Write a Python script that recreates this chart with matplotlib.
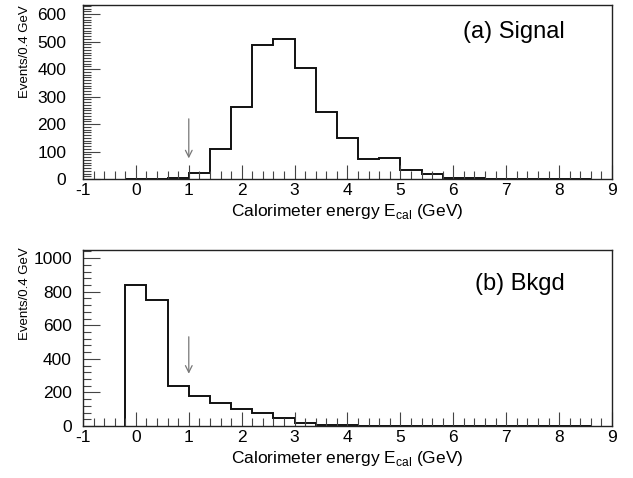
#!/usr/bin/env python3
import numpy as np
import matplotlib
matplotlib.use("Agg")
import matplotlib.pyplot as plt
from matplotlib.ticker import MultipleLocator

plt.rcParams["font.family"] = ["Liberation Sans", "DejaVu Sans"]

# Bin edges: 0.4 GeV bins starting at -0.2 GeV.
Edges = np.round(np.arange(-0.2, 9.0, 0.4), 2)

# (a) Signal counts per bin.
Signal = [0, 0, 3, 22, 110, 263, 488, 508, 403, 245, 150, 72, 77, 33, 18, 5, 3,
          0, 0, 0, 0, 0]
# (b) Background counts per bin.
Bkgd = [840, 750, 237, 180, 137, 103, 75, 45, 15, 8, 3,
        0, 0, 0, 0, 0, 0, 0, 0, 0, 0, 0]

XTicks = [-1, 0, 1, 2, 3, 4, 5, 6, 7, 8, 9]
Cut = 1.0

Fig = plt.figure(figsize=(6.33, 4.78), dpi=100)
AxA = Fig.add_axes([0.1311, 0.6255, 0.8357, 0.364])
AxB = Fig.add_axes([0.1311, 0.1088, 0.8357, 0.368])

# Axis, counts, title, ymax, major, minor, arrow (from, to), title y, ylabel y, y pad
Panels = [
    (AxA, Signal, "(a) Signal", 633, 100, 10, (229, 65), 0.845, 0.73, 12),
    (AxB, Bkgd, "(b) Bkgd", 1048, 200, 40, (548, 295), 0.81, 0.755, 8),
]

for Ax, Counts, Title, YMax, YMajor, YMinor, Arrow, TitleY, LabelY, YPad in Panels:
    Counts = np.array(Counts, dtype=float)
    Ax.stairs(Counts, Edges[:len(Counts) + 1], color="#111111", linewidth=1.4)
    Ax.set_xlim(-1, 9)
    Ax.set_ylim(0, YMax)
    Ax.set_xticks(XTicks)
    Ax.set_xticklabels([str(t) for t in XTicks])
    Ax.xaxis.set_minor_locator(MultipleLocator(0.2))
    Ax.yaxis.set_major_locator(MultipleLocator(YMajor))
    Ax.yaxis.set_minor_locator(MultipleLocator(YMinor))
    Ax.tick_params(axis="x", which="major", direction="in", length=10)
    Ax.tick_params(axis="y", which="major", direction="in", length=12)
    Ax.tick_params(which="major", width=0.8, labelsize=12.5, top=False,
                   right=False, color="#444444")
    Ax.tick_params(which="minor", direction="in", length=6, width=0.8,
                   top=False, right=False, color="#444444")
    Ax.tick_params(axis="x", pad=3)
    Ax.tick_params(axis="y", pad=YPad)
    for Spine in Ax.spines.values():
        Spine.set_linewidth(1.0)
        Spine.set_color("#222222")
    Ax.set_xlabel(r"Calorimeter energy E$_{\mathregular{cal}}$ (GeV)",
                  fontsize=12.5, labelpad=3)
    Ax.set_ylabel("Events/0.4 GeV", fontsize=9.5)
    Ax.yaxis.set_label_coords(-0.098, LabelY)
    Ax.text(0.911, TitleY, Title, transform=Ax.transAxes, fontsize=17,
            ha="right", va="center")
    Ax.annotate("", xy=(Cut, Arrow[1]), xytext=(Cut, Arrow[0]),
                arrowprops=dict(arrowstyle="->", color="#777777", lw=0.9,
                                mutation_scale=12))

Fig.savefig("out.png", dpi=100)
